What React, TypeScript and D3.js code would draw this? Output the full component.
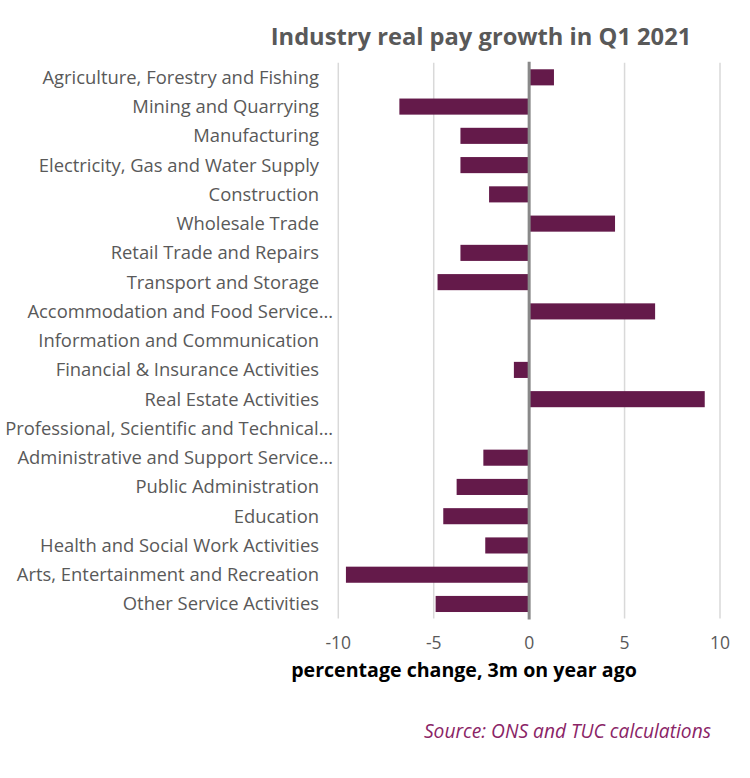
import { useEffect } from "react"
import * as d3 from "d3"

// Industries, top to bottom
const industries = [
  "Agriculture, Forestry and Fishing",
  "Mining and Quarrying",
  "Manufacturing",
  "Electricity, Gas and Water Supply",
  "Construction",
  "Wholesale Trade",
  "Retail Trade and Repairs",
  "Transport and Storage",
  "Accommodation and Food Service…",
  "Information and Communication",
  "Financial & Insurance Activities",
  "Real Estate Activities",
  "Professional, Scientific and Technical…",
  "Administrative and Support Service…",
  "Public Administration",
  "Education",
  "Health and Social Work Activities",
  "Arts, Entertainment and Recreation",
  "Other Service Activities",
]

// real pay growth, % change 3m on year ago
const growth = [1.3, -6.8, -3.6, -3.6, -2.1, 4.5, -3.6, -4.8, 6.6, 0, -0.8, 9.2, 0, -2.4, -3.8, -4.5, -2.3, -9.6, -4.9]

const xTicks = [-10, -5, 0, 5, 10]

const W = 750
const H = 778
const FONT = "'Open Sans', sans-serif"

export default function App() {
  useEffect(() => {
    document.body.style.margin = "0"
  }, [])

  const margin = { top: 62.7, right: 30, bottom: 159.4, left: 338.3 }
  const plotW = 720 - margin.left
  const plotH = H - margin.top - margin.bottom

  const x = d3.scaleLinear().domain([-10, 10]).range([margin.left, margin.left + plotW])
  const y = d3
    .scaleBand<string>()
    .domain(industries)
    .range([margin.top, margin.top + plotH])
    .paddingInner(0.45)
    .paddingOuter(0.225)

  const barColor = "#641a4a"
  const truncated = (s: string) => s.endsWith("…")

  return (
    <svg width={W} height={H} style={{ display: "block", background: "#fff" }}>
      {/* grid */}
      {xTicks.map((t) => (
        <line
          key={"g" + t}
          x1={x(t)}
          x2={x(t)}
          y1={margin.top}
          y2={margin.top + plotH}
          stroke="#d9d9d9"
          strokeWidth={1.5}
        />
      ))}

      {/* bars */}
      {industries.map((name, i) => {
        const v = growth[i]
        if (v === 0) return null
        const x0 = x(0)
        const x1 = x(v)
        return (
          <rect
            key={name}
            x={Math.min(x0, x1)}
            y={y(name)}
            width={Math.abs(x1 - x0)}
            height={y.bandwidth()}
            fill={barColor}
          />
        )
      })}

      {/* zero axis */}
      <line x1={x(0)} x2={x(0)} y1={margin.top - 1} y2={margin.top + plotH + 1} stroke="#898989" strokeWidth={3} />

      {/* category labels */}
      {industries.map((name) => (
        <text
          key={"l" + name}
          x={truncated(name) ? 333 : 319}
          y={(y(name) ?? 0) + y.bandwidth() / 2}
          dy="0.35em"
          textAnchor="end"
          fontFamily={FONT}
          fontSize={18.4}
          fill="#595959"
        >
          {name}
        </text>
      ))}

      {/* x tick labels */}
      {xTicks.map((t) => (
        <text
          key={"t" + t}
          x={x(t)}
          y={643}
          dy="0.35em"
          textAnchor="middle"
          fontFamily={FONT}
          fontSize={17.5}
          fill="#595959"
        >
          {t}
        </text>
      ))}

      <text x={464} y={670} dy="0.35em" textAnchor="middle" fontFamily={FONT} fontSize={19.6} fontWeight="bold" fill="#000">
        percentage change, 3m on year ago
      </text>

      <text x={481} y={37} dy="0.35em" textAnchor="middle" fontFamily={FONT} fontSize={23.7} fontWeight="bold" fill="#595959">
        Industry real pay growth in Q1 2021
      </text>

      <text x={711} y={731} dy="0.35em" textAnchor="end" fontFamily={FONT} fontSize={19.2} fontStyle="italic" fill="#8a2466">
        Source: ONS and TUC calculations
      </text>
    </svg>
  )
}
